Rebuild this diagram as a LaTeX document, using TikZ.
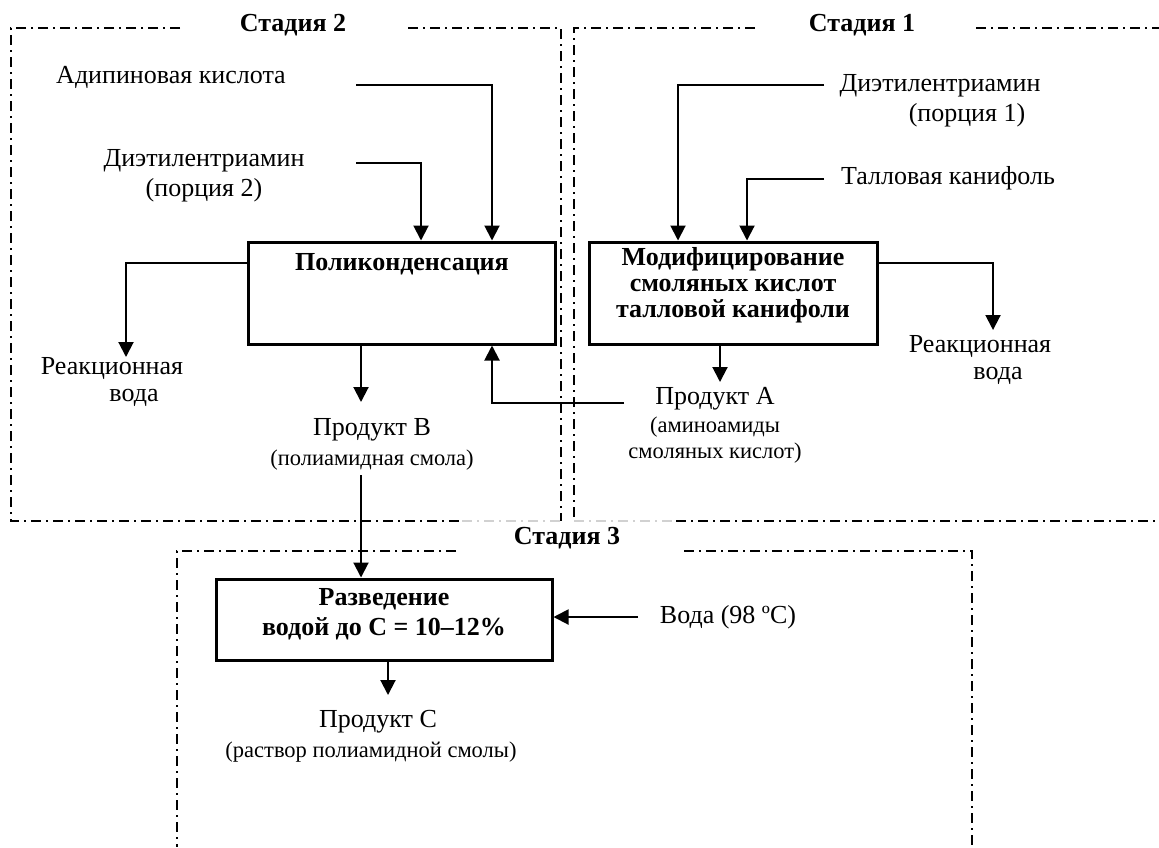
\documentclass[tikz,border=0pt]{standalone}
\usepackage{fontspec}
\setmainfont{Liberation Serif}
\usetikzlibrary{arrows.meta}
\tikzset{
  frame/.style={line width=0.75pt, dash pattern=on 5pt off 2.5pt on 1pt off 2.5pt},
  fadeframe/.style={frame, draw=black!18},
  procbox/.style={draw, line width=1.5pt, inner sep=0pt},
  conn/.style={line width=1pt},
  arr/.style={conn, -{Triangle[length=7.5pt,width=7.5pt]}},
  lbl/.style={font=\fontsize{13}{15}\selectfont, align=center, inner sep=0pt},
  rwlbl/.style={font=\fontsize{13}{13.5}\selectfont, align=center, inner sep=0pt},
  sml/.style={font=\fontsize{11.25}{13}\selectfont, align=center, inner sep=0pt},
  ttl/.style={font=\fontsize{13}{15}\selectfont\bfseries, inner sep=0pt},
  btxt/.style={font=\fontsize{13}{13}\selectfont\bfseries, align=center, inner sep=0pt},
}
\begin{document}
\begin{tikzpicture}[x=0.5pt,y=-0.5pt]
\useasboundingbox (0,0) rectangle (1159,847);

% ---- stage frames
\draw[frame] (180,28) -- (11,28) -- (11,521) -- (462,521);
\draw[fadeframe] (462,521) -- (561,521);
\draw[frame] (408,28) -- (561,28) -- (561,521);
\draw[frame] (755,28) -- (574,28) -- (574,521);
\draw[fadeframe] (574,521) -- (676,521);
\draw[frame] (676,521) -- (1159,521);
\draw[frame] (976,28) -- (1159,28);
\draw[frame] (456,551) -- (177,551) -- (177,847);
\draw[frame] (684,551) -- (972,551) -- (972,847);

% ---- titles
\node[ttl] (t2) at (293,25) {Стадия 2};
\node[ttl] (t1) at (862,25) {Стадия 1};
\node[ttl] (t3) at (567,538) {Стадия 3};

% ---- process boxes
\node[procbox, minimum width=153.5pt, minimum height=51pt] (poly) at (401.5,293) {};
\node[btxt] (polyT) at (402,264) {Поликонденсация};
\node[procbox, minimum width=144pt, minimum height=51pt] (mod) at (733,293) {};
\node[btxt] (modT) at (733,285) {Модифицирование\\смоляных кислот\\талловой канифоли};
\node[procbox, minimum width=168pt, minimum height=40.5pt] (dil) at (384,619.5) {};
\node[btxt, font=\fontsize{13}{15}\selectfont\bfseries] (dilT) at (384,614) {Разведение\\водой до С = 10–12\%};

% ---- labels
\node[lbl] (adip) at (171,77) {Адипиновая кислота};
\node[lbl] (deta2) at (204,176) {Диэтилентриамин\\(порция 2)};
\node[lbl] (deta1) at (940,101) {Диэтилентриамин\\\hspace*{27pt}(порция 1)};
\node[lbl] (tall) at (948,178) {Талловая канифоль};
\node[rwlbl] (rw2) at (112,382) {Реакционная\\\hspace*{22pt}вода};
\node[rwlbl] (rw1) at (980,360) {Реакционная\\\hspace*{18pt}вода};
\node[lbl] (prodB) at (372,430) {Продукт В};
\node[sml] (prodBs) at (372,460) {(полиамидная смола)};
\node[lbl] (prodA) at (715,399) {Продукт А};
\node[sml] (prodAs) at (715,440) {(аминоамиды\\смоляных кислот)};
\node[lbl] (water) at (728,617) {Вода (98 ºС)};
\node[lbl] (prodC) at (378,722) {Продукт С};
\node[sml] (prodCs) at (371,752) {(раствор полиамидной смолы)};

% ---- helper coordinates
\coordinate (a1) at (356,85);
\coordinate (xa) at (492,0);
\coordinate (d2) at (356,163);
\coordinate (xd2) at (421,0);
\coordinate (yl) at (0,263);
\coordinate (rw2t) at (126,357);
\coordinate (xb) at (361,0);
\coordinate (pbt) at (361,402);
\coordinate (pbb) at (361,475);
\coordinate (par) at (624,403);
\coordinate (d1) at (824,85);
\coordinate (xm1) at (678,0);
\coordinate (tl) at (824,179);
\coordinate (xm2) at (747,0);
\coordinate (rw1t) at (993,330);
\coordinate (xm3) at (720,0);
\coordinate (pat) at (720,382);
\coordinate (wt) at (638,617);
\coordinate (pct) at (388,695);

% ---- connectors
\draw[arr] (a1) -| (poly.north -| xa);
\draw[arr] (d2) -| (poly.north -| xd2);
\draw[arr] (poly.west |- yl) -| (rw2t);
\draw[arr] (poly.south -| xb) -- (pbt);
\draw[arr] (pbb) -- (dil.north -| pbb);
\draw[arr] (par) -| (poly.south -| xa);
\draw[arr] (d1) -| (mod.north -| xm1);
\draw[arr] (tl) -| (mod.north -| xm2);
\draw[arr] (mod.east |- yl) -| (rw1t);
\draw[arr] (mod.south -| xm3) -- (pat);
\draw[arr] (wt) -- (dil.east |- wt);
\draw[arr] (dil.south -| pct) -- (pct);
\end{tikzpicture}
\end{document}
